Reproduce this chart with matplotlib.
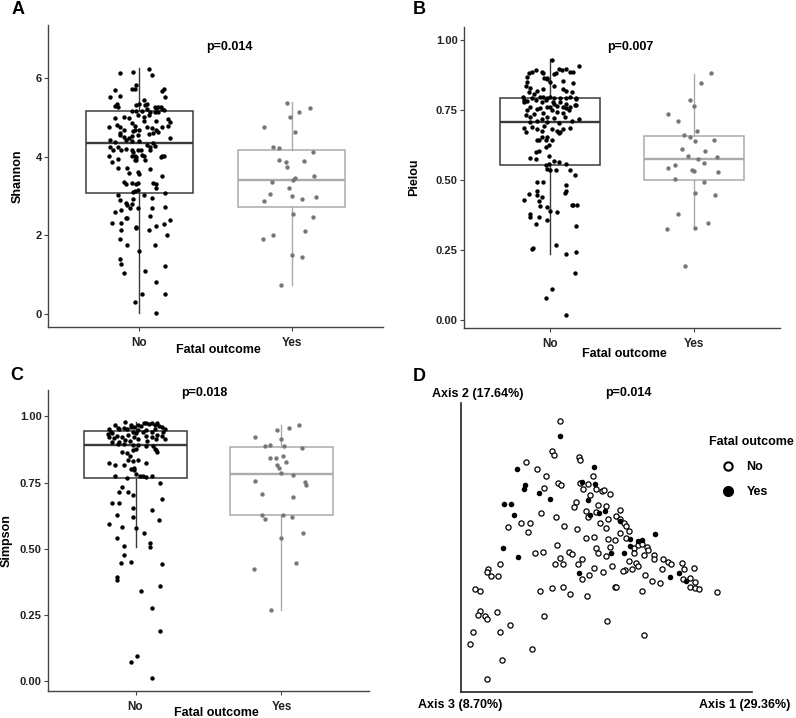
import numpy as np
import matplotlib
matplotlib.use("Agg")
import matplotlib.pyplot as plt
from matplotlib.lines import Line2D

plt.rcParams["font.family"] = ["Liberation Sans", "DejaVu Sans"]
plt.rcParams["font.weight"] = "bold"
plt.rcParams["axes.labelweight"] = "bold"

groups = ["No", "Yes"]

# ---- panel A: Shannon ----
shannon_no = [6.12, 6.15, 6.23, 6.09, 5.70, 5.83, 5.73, 5.73, 5.72, 5.68, 5.53, 5.55, 5.51, 5.34, 5.30, 5.27,
              5.32, 5.34, 5.43, 5.32, 5.34, 5.27, 5.23, 5.27, 5.26, 5.22, 5.19, 5.17, 5.17, 5.17, 5.22, 5.13,
              5.13, 5.13, 4.99, 5.00, 4.98, 5.05, 5.00, 5.05, 4.75, 4.81, 4.75, 4.67, 4.85, 4.79, 4.92, 4.92,
              4.96, 4.88, 4.79, 4.65, 4.68, 4.67, 4.75, 4.73, 4.75, 4.60, 4.54, 4.50, 4.48, 4.53, 4.55, 4.58,
              4.60, 4.62, 4.68, 4.48, 4.43, 4.37, 4.43, 4.41, 4.41, 4.31, 4.34, 4.24, 4.18, 4.24, 4.16, 4.20,
              4.18, 4.12, 4.18, 4.18, 4.24, 4.27, 4.02, 3.86, 3.95, 4.01, 4.03, 3.99, 4.05, 4.03, 4.16, 3.99,
              4.01, 4.03, 3.92, 3.91, 3.92, 3.72, 3.71, 3.58, 3.61, 3.57, 3.69, 3.50, 3.36, 3.31, 3.33, 3.31,
              3.33, 3.34, 3.31, 3.21, 3.10, 3.13, 3.16, 3.02, 2.89, 3.02, 2.96, 3.08, 2.83, 2.76, 2.79, 2.70,
              2.92, 2.60, 2.65, 2.70, 2.70, 2.71, 2.32, 2.32, 2.43, 2.45, 2.49, 2.21, 2.19, 2.13, 2.23, 2.28,
              2.39, 2.13, 1.90, 1.75, 2.00, 1.75, 1.60, 1.39, 1.28, 1.05, 1.23, 1.10, 0.81, 0.52, 0.31, 0.50,
              0.03]
shannon_no_jit = [-0.13, -0.04, 0.06, 0.08, -0.16, -0.02, -0.05, -0.03, 0.16, 0.15, -0.19, -0.13, 0.17, -0.15,
                  -0.16, -0.14, -0.02, 0.00, 0.03, 0.04, 0.05, 0.10, 0.11, 0.12, 0.14, 0.15, 0.16, -0.05, -0.02,
                  0.02, 0.05, 0.07, 0.10, 0.12, -0.16, -0.10, -0.07, -0.01, 0.03, 0.06, -0.20, -0.15, -0.13,
                  -0.10, -0.05, -0.03, 0.03, 0.11, 0.19, 0.20, 0.19, -0.04, -0.03, 0.00, 0.05, 0.08, 0.15, -0.13,
                  -0.13, -0.10, -0.07, -0.05, -0.01, 0.06, 0.09, 0.12, 0.11, 0.20, -0.19, -0.16, -0.09, -0.05,
                  0.00, 0.05, 0.09, -0.19, -0.17, -0.14, -0.12, -0.09, -0.05, -0.04, -0.01, 0.01, 0.07, 0.10,
                  -0.20, -0.18, -0.14, -0.05, -0.03, -0.02, 0.02, 0.03, 0.07, 0.14, 0.15, 0.16, -0.03, -0.02,
                  0.04, -0.14, -0.08, -0.07, -0.01, 0.00, 0.07, 0.15, -0.10, -0.09, -0.05, -0.02, -0.01, 0.09,
                  0.11, 0.11, -0.04, -0.03, -0.01, -0.14, -0.13, 0.03, 0.08, 0.17, -0.09, -0.08, -0.05, -0.06,
                  -0.04, -0.16, -0.12, -0.01, 0.08, 0.17, -0.18, -0.12, -0.09, -0.08, 0.07, -0.02, -0.02, 0.06,
                  0.11, 0.16, 0.20, -0.12, -0.13, -0.08, 0.18, 0.10, 0.00, -0.13, -0.12, -0.10, 0.17, 0.04, 0.11,
                  0.02, -0.03, 0.17, 0.11]
shannon_yes = [5.37, 5.23, 5.14, 5.01, 4.75, 4.62, 4.26, 4.22, 4.11, 3.91, 3.87, 3.88, 3.73, 3.52, 3.46, 3.42,
               3.36, 3.20, 3.06, 3.01, 2.92, 2.98, 2.87, 2.54, 2.47, 2.10, 2.01, 1.90, 1.49, 1.45, 0.75]
shannon_yes_jit = [-0.03, 0.12, 0.05, -0.01, -0.18, 0.02, -0.12, -0.08, 0.14, -0.08, -0.04, 0.08, -0.03, 0.15,
                   0.02, 0.01, -0.13, -0.02, -0.14, 0.00, 0.07, 0.16, -0.18, 0.01, 0.14, 0.09, -0.12, -0.19,
                   0.00, 0.07, -0.07]
# whisker low, q1, median, q3, whisker high
shannon_box_no = [0.03, 3.08, 4.34, 5.17, 6.26]
shannon_box_yes = [0.75, 2.71, 3.42, 4.18, 5.39]

# ---- panel B: Pielou ----
pielou_no = [0.930, 0.908, 0.899, 0.896, 0.899, 0.889, 0.888, 0.883, 0.895, 0.887, 0.889, 0.882, 0.883, 0.869,
             0.867, 0.865, 0.879, 0.851, 0.831, 0.862, 0.851, 0.854, 0.848, 0.827, 0.836, 0.836, 0.815, 0.821,
             0.827, 0.810, 0.821, 0.815, 0.798, 0.788, 0.794, 0.786, 0.798, 0.798, 0.795, 0.798, 0.794, 0.794,
             0.795, 0.798, 0.790, 0.795, 0.780, 0.782, 0.780, 0.786, 0.780, 0.774, 0.765, 0.780, 0.774, 0.764,
             0.771, 0.768, 0.762, 0.756, 0.760, 0.762, 0.764, 0.764, 0.760, 0.752, 0.750, 0.738, 0.740, 0.750,
             0.744, 0.742, 0.732, 0.726, 0.720, 0.726, 0.724, 0.726, 0.720, 0.708, 0.714, 0.708, 0.706, 0.714,
             0.688, 0.673, 0.690, 0.685, 0.696, 0.685, 0.676, 0.673, 0.685, 0.688, 0.675, 0.655, 0.655, 0.669,
             0.643, 0.645, 0.643, 0.645, 0.627, 0.619, 0.601, 0.604, 0.579, 0.577, 0.589, 0.557, 0.571, 0.565,
             0.556, 0.542, 0.536, 0.560, 0.538, 0.495, 0.493, 0.536, 0.520, 0.462, 0.448, 0.440, 0.485, 0.464,
             0.429, 0.452, 0.425, 0.407, 0.380, 0.369, 0.405, 0.390, 0.386, 0.413, 0.411, 0.411, 0.455, 0.371,
             0.345, 0.357, 0.269, 0.336, 0.257, 0.255, 0.236, 0.244, 0.169, 0.112, 0.080, 0.021]
pielou_no_jit = [0.01, 0.20, 0.06, 0.08, 0.11, 0.14, 0.16, -0.15, -0.10, -0.13, -0.06, -0.05, 0.04, -0.16,
                 -0.04, -0.02, 0.03, -0.16, -0.14, -0.02, 0.00, 0.09, 0.16, 0.09, 0.03, -0.17, -0.15, -0.09,
                 -0.05, -0.11, 0.11, 0.15, -0.19, -0.18, -0.13, -0.10, -0.07, -0.05, -0.02, 0.00, 0.03, 0.07,
                 0.11, 0.14, 0.18, 0.18, -0.18, -0.16, -0.06, -0.03, 0.02, 0.03, 0.05, 0.07, 0.11, 0.14, 0.17,
                 0.18, -0.14, -0.09, -0.07, -0.02, 0.00, 0.09, 0.11, 0.13, -0.16, -0.11, -0.05, 0.01, 0.05,
                 0.09, -0.17, -0.14, -0.06, -0.02, 0.03, 0.10, 0.20, -0.14, -0.09, -0.02, 0.06, 0.15, -0.18,
                 -0.17, -0.13, -0.09, -0.04, 0.01, 0.05, 0.07, 0.09, 0.14, -0.06, -0.06, -0.02, 0.06, -0.09,
                 -0.08, -0.03, 0.01, -0.01, -0.03, -0.10, -0.08, -0.14, -0.10, -0.01, -0.01, 0.03, 0.06, -0.03,
                 -0.02, 0.00, 0.11, 0.14, -0.09, -0.05, 0.04, 0.17, -0.09, -0.09, -0.06, 0.11, 0.11, -0.18,
                 -0.15, -0.08, -0.07, -0.14, -0.14, -0.02, 0.00, 0.05, 0.15, 0.16, 0.19, 0.10, -0.08, -0.10,
                 -0.02, 0.04, 0.18, -0.12, -0.13, 0.11, 0.18, 0.17, 0.01, -0.03, 0.11]
pielou_yes = [0.882, 0.848, 0.788, 0.765, 0.738, 0.713, 0.677, 0.661, 0.656, 0.642, 0.645, 0.611, 0.605, 0.588,
              0.577, 0.582, 0.563, 0.555, 0.544, 0.536, 0.532, 0.529, 0.506, 0.496, 0.455, 0.449, 0.381, 0.348,
              0.331, 0.325, 0.193]
pielou_yes_jit = [0.12, 0.05, -0.03, 0.00, -0.18, -0.11, 0.02, -0.07, -0.03, 0.01, 0.14, -0.08, 0.08, -0.04,
                  0.03, 0.16, 0.07, -0.13, -0.18, -0.01, 0.00, 0.17, -0.13, 0.07, 0.01, 0.15, -0.11, 0.10, 0.01,
                  -0.19, -0.06]
pielou_box_no = [0.236, 0.555, 0.708, 0.795, 0.935]
pielou_box_yes = [0.331, 0.502, 0.577, 0.658, 0.881]

# ---- panel C: Simpson ----
simpson_no = [0.981, 0.968, 0.968, 0.958, 0.953, 0.943, 0.933, 0.937, 0.952, 0.956, 0.953, 0.960, 0.962, 0.967,
              0.965, 0.975, 0.977, 0.971, 0.975, 0.968, 0.977, 0.965, 0.960, 0.953, 0.942, 0.952, 0.943, 0.950,
              0.941, 0.950, 0.937, 0.941, 0.931, 0.924, 0.927, 0.918, 0.922, 0.922, 0.914, 0.927, 0.922, 0.931,
              0.927, 0.914, 0.914, 0.909, 0.909, 0.912, 0.905, 0.905, 0.897, 0.895, 0.893, 0.893, 0.887, 0.887,
              0.874, 0.865, 0.876, 0.874, 0.876, 0.851, 0.864, 0.861, 0.836, 0.830, 0.836, 0.817, 0.817, 0.823,
              0.805, 0.802, 0.826, 0.796, 0.769, 0.782, 0.776, 0.777, 0.773, 0.776, 0.776, 0.733, 0.716, 0.716,
              0.704, 0.750, 0.689, 0.672, 0.672, 0.653, 0.647, 0.628, 0.609, 0.622, 0.594, 0.584, 0.578, 0.559,
              0.541, 0.521, 0.508, 0.512, 0.477, 0.445, 0.449, 0.441, 0.382, 0.395, 0.342, 0.359, 0.277, 0.189,
              0.074, 0.095, 0.013]
simpson_no_jit = [-0.07, -0.03, -0.14, -0.12, -0.18, -0.17, -0.19, -0.16, -0.11, -0.08, -0.06, -0.03, -0.01,
                  0.02, 0.04, 0.06, 0.07, 0.09, 0.11, 0.13, 0.15, 0.16, 0.18, 0.20, 0.19, 0.13, 0.11, 0.07,
                  0.05, 0.02, 0.00, -0.02, -0.05, -0.09, -0.13, -0.15, -0.18, -0.01, 0.02, 0.07, 0.11, 0.15,
                  0.18, 0.20, 0.14, 0.08, -0.04, -0.07, -0.11, -0.16, -0.12, -0.08, -0.02, 0.02, 0.07, 0.12,
                  0.14, 0.15, 0.13, -0.02, 0.00, -0.04, -0.09, -0.06, 0.02, -0.02, -0.05, -0.08, -0.14, -0.18,
                  -0.01, -0.03, 0.07, -0.01, -0.06, 0.00, 0.03, 0.05, 0.07, 0.11, -0.14, -0.09, -0.11, -0.05,
                  -0.02, 0.17, 0.18, -0.16, -0.11, -0.02, 0.11, -0.13, 0.16, -0.02, -0.18, -0.09, 0.00, 0.06,
                  -0.13, 0.10, 0.10, -0.08, -0.08, -0.10, -0.03, 0.18, -0.13, -0.13, 0.04, 0.17, 0.11, 0.17,
                  -0.03, 0.01, 0.11]
simpson_yes = [0.966, 0.958, 0.950, 0.916, 0.924, 0.890, 0.892, 0.889, 0.881, 0.845, 0.844, 0.850, 0.827, 0.815,
               0.805, 0.786, 0.778, 0.757, 0.754, 0.740, 0.709, 0.694, 0.628, 0.627, 0.619, 0.612, 0.561, 0.540,
               0.448, 0.425, 0.269]
simpson_yes_jit = [0.12, 0.05, -0.03, 0.00, -0.18, -0.11, -0.08, 0.02, 0.14, -0.08, -0.04, 0.01, 0.03, -0.03,
                   -0.02, 0.00, 0.08, -0.18, 0.16, 0.17, -0.13, 0.08, -0.13, 0.01, 0.07, -0.11, 0.15, 0.00, 0.10,
                   -0.19, -0.07]
simpson_box_no = [0.506, 0.769, 0.893, 0.947, 0.981]
simpson_box_yes = [0.269, 0.627, 0.784, 0.884, 0.966]

# ---- panel D: PCoA scores ----
pc_no_ax1 = [-0.120, -0.145, -0.138, -0.063, -0.062, -0.223, -0.189, -0.164, -0.127, -0.118, -0.170, -0.060,
             -0.051, -0.038, -0.031, -0.073, -0.080, -0.042, -0.038, -0.179, -0.133, -0.239, -0.210, -0.277,
             -0.216, -0.109, -0.070, -0.044, -0.130, -0.195, -0.173, -0.093, -0.084, -0.121, -0.054, -0.301,
             -0.136, -0.113, -0.068, -0.338, -0.339, -0.328, -0.306, -0.034, -0.056, -0.375, -0.362, -0.182,
             -0.145, -0.112, -0.091, -0.040, -0.360, -0.367, -0.345, -0.339, -0.311, -0.169, -0.271, -0.381,
             -0.302, -0.392, -0.204, -0.295, -0.339,
             -0.022, -0.012, 0.004, 0.010, 0.030, -0.008, 0.018, 0.048, 0.060, 0.060, -0.014, 0.000, 0.022,
             0.070, 0.077, 0.016, 0.085, 0.060, -0.020, 0.024, 0.044, 0.078, 0.100, 0.112, 0.125, 0.140, 0.143,
             -0.012, -0.008, 0.030, 0.018, 0.102, 0.132, 0.160, 0.162, 0.188, 0.202, 0.213, 0.245, 0.085, 0.108,
             0.112, 0.075, 0.068, 0.095, 0.135, 0.155, 0.178, 0.185, 0.250, 0.280, 0.248, 0.270, 0.285, 0.270,
             0.285, 0.295, -0.020, 0.008, 0.035, 0.043, 0.047, 0.125, 0.350, 0.020, 0.132]
pc_no_ax2 = [0.445, 0.355, 0.345, 0.337, 0.330, 0.322, 0.302, 0.282, 0.262, 0.255, 0.247, 0.260, 0.243, 0.258,
             0.225, 0.204, 0.190, 0.178, 0.160, 0.170, 0.159, 0.140, 0.142, 0.129, 0.113, 0.131, 0.123, 0.096,
             0.074, 0.051, 0.053, 0.054, 0.049, 0.037, 0.034, 0.018, 0.017, 0.017, 0.018, 0.002, -0.005, -0.018,
             -0.019, -0.016, -0.026, -0.058, -0.062, -0.063, -0.055, -0.050, -0.071, -0.078, -0.122, -0.135,
             -0.138, -0.148, -0.126, -0.138, -0.163, -0.184, -0.186, -0.220, -0.236, -0.268, -0.326,
             0.283, 0.242, 0.238, 0.240, 0.228, 0.196, 0.191, 0.163, 0.180, 0.152, 0.174, 0.142, 0.152, 0.140,
             0.132, 0.125, 0.117, 0.110, 0.098, 0.092, 0.089, 0.095, 0.065, 0.075, 0.078, 0.070, 0.060, 0.065,
             0.052, 0.068, 0.042, 0.050, 0.045, 0.045, 0.033, 0.032, 0.025, 0.018, 0.022, 0.027, 0.022, 0.013,
             0.000, -0.003, 0.002, -0.015, -0.034, -0.038, 0.002, 0.003, 0.005, -0.028, -0.024, -0.037, -0.050,
             -0.055, -0.058, 0.005, -0.007, 0.012, -0.050, -0.052, -0.063, -0.065, -0.153, -0.195]
pc_yes_ax1 = [-0.122, -0.249, -0.055, -0.225, -0.230, -0.183, -0.151, -0.037, -0.289, -0.269, -0.258, -0.293,
              -0.247, -0.065, -0.018, -0.016, -0.030, -0.003, 0.015, 0.058, 0.088, 0.112, 0.125, 0.090, 0.072,
              0.033, 0.165, 0.235, 0.210, 0.258]
pc_yes_ax2 = [0.402, 0.302, 0.264, 0.255, 0.243, 0.230, 0.212, 0.210, 0.199, 0.197, 0.165, 0.066, 0.038,
              -0.010, 0.308, 0.258, 0.165, 0.172, 0.177, 0.148, 0.092, 0.088, 0.090, 0.072, 0.050, 0.050, 0.107,
              -0.008, -0.020, -0.032]

W, H = 796, 718
fig = plt.figure(figsize=(W / 100, H / 100), dpi=100)


def add_ax(x0, y0, x1, y1):
    # pixel box -> figure fraction
    return fig.add_axes([x0 / W, 1 - y1 / H, (x1 - x0) / W, (y1 - y0) / H])


def box_panel(ax, vals, jits, boxes, ylim, yticks, fmt, ylabel, ylab_x, xlab_pos, pval, pval_pos):
    stats = [dict(whislo=b[0], q1=b[1], med=b[2], q3=b[3], whishi=b[4], fliers=[]) for b in boxes]
    art = ax.bxp(stats, positions=[1, 2], widths=0.7, showcaps=False, showfliers=False, patch_artist=True)
    for i, (lc, pc) in enumerate([("#3a3a3a", "black"), ("#ababab", "#777777")]):
        art["boxes"][i].set(facecolor="white", edgecolor=lc, linewidth=1.1)
        art["medians"][i].set(color=lc, linewidth=1.7)
        for w in art["whiskers"][2 * i:2 * i + 2]:
            w.set(color=lc, linewidth=1.0)
        ax.scatter(i + 1 + np.array(jits[i]), vals[i], s=10, color=pc, linewidths=0, zorder=3)
    ax.set_xlim(0.4, 2.6)
    ax.set_ylim(*ylim)
    ax.set_xticks([1, 2])
    ax.set_xticklabels(groups)
    ax.set_yticks(yticks)
    ax.set_yticklabels([fmt.format(t) for t in yticks])
    for s in ["top", "right"]:
        ax.spines[s].set_visible(False)
    for s in ["left", "bottom"]:
        ax.spines[s].set_color("#444444")
        ax.spines[s].set_linewidth(1.0)
    ax.tick_params(axis="y", length=3, width=0.8, color="#444444", labelsize=8, pad=1.5, labelcolor="#222222")
    ax.tick_params(axis="x", length=3, width=0.8, color="#444444", labelsize=8.5, pad=4, labelcolor="#222222")
    ax.set_ylabel(ylabel, fontsize=9, va="center")
    ax.yaxis.set_label_coords(ylab_x, 0.5)
    ax.set_xlabel("Fatal outcome", fontsize=9, va="center")
    ax.xaxis.set_label_coords(*xlab_pos)
    ax.text(pval_pos[0], pval_pos[1], pval, transform=ax.transAxes, ha="center", va="center",
            fontsize=9, fontweight="bold")


axA = add_ax(48, 25, 383, 327)
box_panel(axA, [shannon_no, shannon_yes], [shannon_no_jit, shannon_yes_jit], [shannon_box_no, shannon_box_yes],
          (-0.33, 7.35), [0, 2, 4, 6], "{:g}", "Shannon", -0.09, (0.51, -0.076), "p=0.014", (0.543, 0.927))

axB = add_ax(464, 27, 780, 328)
box_panel(axB, [pielou_no, pielou_yes], [pielou_no_jit, pielou_yes_jit], [pielou_box_no, pielou_box_yes],
          (-0.027, 1.048), [0, 0.25, 0.5, 0.75, 1.0], "{:.2f}", "Pielou", -0.158, (0.506, -0.086),
          "p=0.007", (0.525, 0.934))

axC = add_ax(48, 390, 369, 691)
box_panel(axC, [simpson_no, simpson_yes], [simpson_no_jit, simpson_yes_jit], [simpson_box_no, simpson_box_yes],
          (-0.037, 1.10), [0, 0.25, 0.5, 0.75, 1.0], "{:.2f}", "Simpson", -0.128, (0.523, -0.073),
          "p=0.018", (0.486, 0.99))

axD = add_ax(461, 403, 752, 692)
axD.scatter(pc_no_ax1, pc_no_ax2, s=14, facecolor="white", edgecolor="black", linewidths=0.9, zorder=3)
axD.scatter(pc_yes_ax1, pc_yes_ax2, s=16, color="black", linewidths=0, zorder=4)
axD.set_xlim(-0.418, 0.455)
axD.set_ylim(-0.365, 0.500)
axD.set_xticks([])
axD.set_yticks([])
for s in ["top", "right"]:
    axD.spines[s].set_visible(False)
for s in ["left", "bottom"]:
    axD.spines[s].set_color("#222222")
    axD.spines[s].set_linewidth(1.2)
axD.text(-0.100, 1.031, "Axis 2 (17.64%)", transform=axD.transAxes, ha="left", va="center", fontsize=9)
axD.text(-0.148, -0.045, "Axis 3 (8.70%)", transform=axD.transAxes, ha="left", va="center", fontsize=9)
axD.text(1.131, -0.045, "Axis 1 (29.36%)", transform=axD.transAxes, ha="right", va="center", fontsize=9)
axD.text(0.574, 1.035, "p=0.014", transform=axD.transAxes, ha="center", va="center", fontsize=9)

handles = [Line2D([], [], linestyle="none", marker="o", markersize=6, markerfacecolor="white",
                  markeredgecolor="black", markeredgewidth=1.5),
           Line2D([], [], linestyle="none", marker="o", markersize=7, color="black")]
axD.legend(handles, groups, title="Fatal outcome", loc="upper left", bbox_to_anchor=(709 / W, 1 - 436 / H),
           bbox_transform=fig.transFigure, frameon=False, borderpad=0, borderaxespad=0, handlelength=3.0,
           handletextpad=0.0, labelspacing=1.05, alignment="left",
           prop={"weight": "bold", "size": 9}, title_fontproperties={"weight": "bold", "size": 9})

for letter, x, y in [("A", 18, 10), ("B", 419, 9), ("C", 17, 376), ("D", 419, 377)]:
    fig.text(x / W, 1 - y / H, letter, ha="center", va="center", fontsize=13, fontweight="bold")

fig.savefig("out.png", dpi=100)
